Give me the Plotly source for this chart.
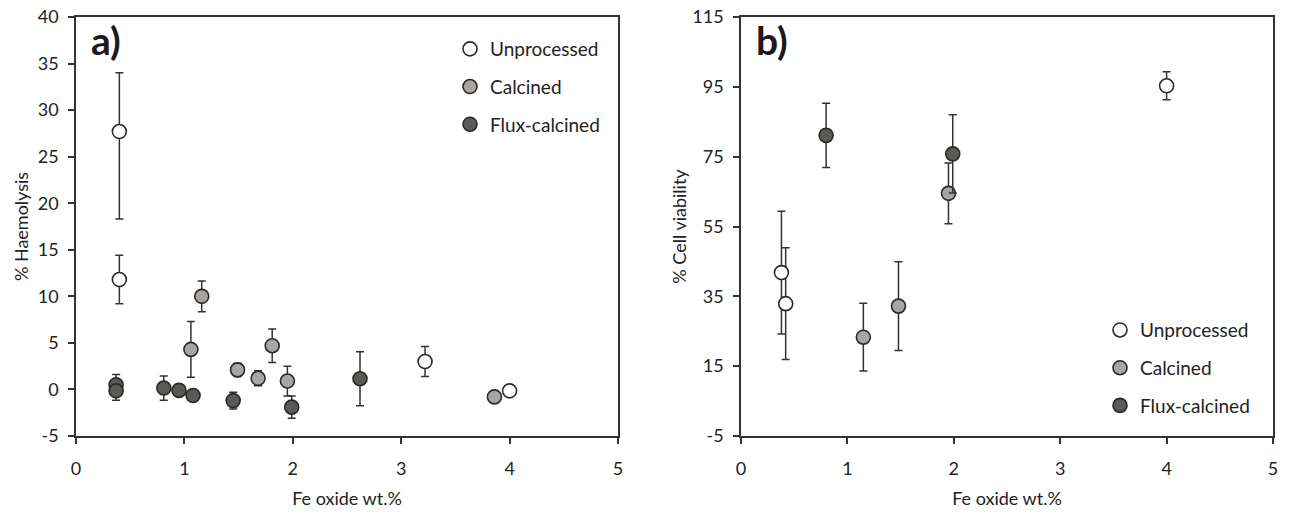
import plotly.graph_objects as go

# ---- Panel a) % Haemolysis ----
a_unproc_x = [0.40, 0.40, 3.22, 4.00]
a_unproc_y = [27.7, 11.8, 3.0, -0.15]
a_unproc_eplus = [6.3, 2.6, 1.6, 0.0]
a_unproc_eminus = [9.4, 2.6, 1.6, 0.0]

a_calc_x = [1.06, 1.16, 1.49, 1.68, 1.81, 1.95, 3.86]
a_calc_y = [4.3, 10.0, 2.1, 1.2, 4.7, 0.9, -0.8]
a_calc_err = [3.0, 1.65, 0.7, 0.8, 1.8, 1.6, 0.0]

a_flux_x = [0.37, 0.37, 0.81, 0.95, 1.08, 1.45, 1.99, 2.62]
a_flux_y = [0.5, -0.15, 0.15, -0.1, -0.65, -1.2, -1.9, 1.15]
a_flux_err = [1.1, 1.0, 1.3, 0.5, 0.3, 0.9, 1.2, 2.9]

a_ytick_vals = [-5, 0, 5, 10, 15, 20, 25, 30, 35, 40]
a_ytick_text = ["-5", "0", "5", "10", "15", "20", "25", "30", "35", "40"]

# ---- Panel b) % Cell viability ----
b_unproc_x = [0.38, 0.42, 4.00]
b_unproc_y = [41.8, 32.9, 95.3]
b_unproc_err = [17.6, 16.0, 4.0]

b_calc_x = [1.15, 1.48, 1.95]
b_calc_y = [23.3, 32.2, 64.5]
b_calc_err = [9.7, 12.7, 8.7]

b_flux_x = [0.80, 1.99]
b_flux_y = [81.1, 75.8]
b_flux_err = [9.2, 11.2]

b_ytick_vals = [-5, 15, 35, 55, 75, 95, 115]
b_ytick_text = ["-5", "15", "35", "55", "75", "95", "115"]

x_ticks = [0, 1, 2, 3, 4, 5]

series_names = ["Unprocessed", "Calcined", "Flux-calcined"]
fill_colors = ["#ffffff", "#a9a5a3", "#5b5a56"]
edge = "#2a2a2a"
FONT = "Lato, 'Open Sans', sans-serif"

W = 1293
H = 515

fig = go.Figure()


def add(x, y, ep, em, idx, xa, ya, legend):
    fig.add_trace(go.Scatter(
        x=x, y=y, mode="markers", name=series_names[idx],
        xaxis=xa, yaxis=ya, legend=legend, legendgroup=legend + str(idx),
        marker=dict(size=14, color=fill_colors[idx], line=dict(color=edge, width=1.6)),
        error_y=dict(type="data", symmetric=False, array=ep, arrayminus=em,
                     color="#333333", thickness=1.5, width=4),
        hoverinfo="skip",
    ))


add(a_unproc_x, a_unproc_y, a_unproc_eplus, a_unproc_eminus, 0, "x", "y", "legend")
add(a_calc_x, a_calc_y, a_calc_err, a_calc_err, 1, "x", "y", "legend")
add(a_flux_x, a_flux_y, a_flux_err, a_flux_err, 2, "x", "y", "legend")

add(b_unproc_x, b_unproc_y, b_unproc_err, b_unproc_err, 0, "x2", "y2", "legend2")
add(b_calc_x, b_calc_y, b_calc_err, b_calc_err, 1, "x2", "y2", "legend2")
add(b_flux_x, b_flux_y, b_flux_err, b_flux_err, 2, "x2", "y2", "legend2")

axis_common = dict(
    showline=True, linecolor="#333333", linewidth=1.5, mirror=True,
    ticks="outside", ticklen=6, tickwidth=1.5, tickcolor="#333333",
    showgrid=False, zeroline=False, automargin=False, ticklabeloverflow="allow",
    tickfont=dict(family=FONT, size=18, color="#222222"),
    title_font=dict(family=FONT, size=18, color="#222222"),
)

legend_common = dict(
    xanchor="left", yanchor="top", traceorder="grouped",
    font=dict(family=FONT, size=19, color="#222222"),
    tracegroupgap=10, bgcolor="rgba(0,0,0,0)", itemwidth=30,
)


def px(v):
    return v / W


fig.update_layout(
    width=W, height=H,
    paper_bgcolor="white", plot_bgcolor="white",
    margin=dict(l=0, r=0, t=17, b=H - 436),
    font=dict(family=FONT, color="#222222"),
    xaxis=dict(domain=[px(76), px(618)], range=[0, 5], tickvals=x_ticks, ticklabelstandoff=10,
               title=dict(text="Fe oxide wt.%", standoff=14), anchor="y", **axis_common),
    yaxis=dict(domain=[0, 1], range=[-5, 40], tickvals=a_ytick_vals, ticktext=a_ytick_text,
               ticklabelstandoff=6,
               title=dict(text="% Haemolysis", standoff=4), anchor="x", **axis_common),
    xaxis2=dict(domain=[px(741), px(1273)], range=[0, 5], tickvals=x_ticks, ticklabelstandoff=10,
                title=dict(text="Fe oxide wt.%", standoff=14), anchor="y2", **axis_common),
    yaxis2=dict(domain=[0, 1], range=[-5, 115], tickvals=b_ytick_vals, ticktext=b_ytick_text,
                ticklabelstandoff=6,
                title=dict(text="% Cell viability", standoff=1), anchor="x2", **axis_common),
    legend=dict(x=px(450), y=0.969, **legend_common),
    legend2=dict(x=px(1100), y=0.298, **legend_common),
    showlegend=True,
    annotations=[
        dict(text="<b>a)</b>", xref="x domain", yref="y domain", x=0.024, y=1.005,
             xanchor="left", yanchor="top", showarrow=False,
             font=dict(family=FONT, size=39, color="#1a1a1a")),
        dict(text="<b>b)</b>", xref="x2 domain", yref="y2 domain", x=0.024, y=1.005,
             xanchor="left", yanchor="top", showarrow=False,
             font=dict(family=FONT, size=39, color="#1a1a1a")),
    ],
)

fig.write_html("out.html", config={"displayModeBar": False},
               post_script="document.body.style.margin='0';")
